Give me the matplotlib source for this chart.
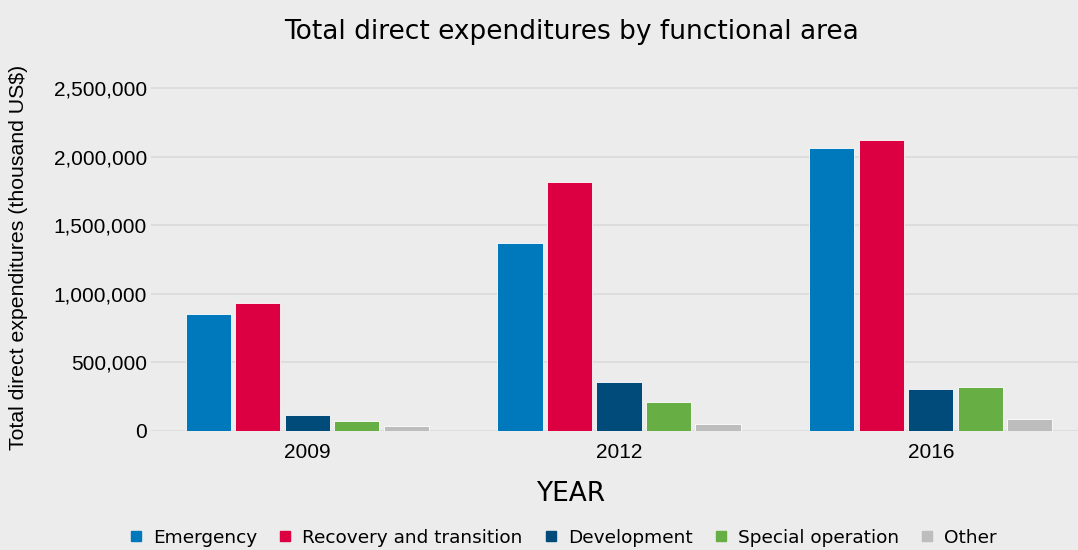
import numpy as np
import matplotlib.pyplot as plt
from matplotlib.ticker import FuncFormatter
from matplotlib.lines import Line2D

# Direct expenditures (thousand US$) by functional area
years = ['2009', '2012', '2016']
areas = ['Emergency', 'Recovery and transition', 'Development', 'Special operation', 'Other']
emergency = [853500, 1371000, 2062000]
recovery = [931500, 1811500, 2123000]
development = [116700, 355000, 304000]
special_operation = [70500, 211600, 318600]
other = [38900, 53500, 85300]

series = [emergency, recovery, development, special_operation, other]
colors = ['#0079bc', '#dc0042', '#004b7a', '#67ae45', '#bdbdbd']

bg = '#ececec'
fig = plt.figure(figsize=(10.78, 5.5), dpi=100, facecolor=bg)
ax = fig.add_axes([0.140, 0.2164, 0.868, 0.661], facecolor=bg)

x = np.arange(len(years))
step = 0.1588
width = 0.145
for i, (vals, c) in enumerate(zip(series, colors)):
    ax.bar(x + (i - 2) * step, vals, width=width, color=c,
           edgecolor='#ffffff', linewidth=0.6, zorder=3)

ax.set_ylim(0, 2650000)
ax.set_xlim(-0.502, 2.50)
ax.set_yticks(np.arange(0, 2500001, 500000))
ax.yaxis.set_major_formatter(FuncFormatter(lambda v, p: f'{int(v):,}'))
ax.set_xticks(x)
ax.set_xticklabels(years)
ax.grid(axis='y', color='#dcdcdc', linewidth=1.3, zorder=0)
ax.tick_params(axis='y', length=0, labelsize=15, pad=3)
ax.tick_params(axis='x', length=0, labelsize=15, pad=9)
for lab in ax.get_xticklabels() + ax.get_yticklabels():
    lab.set_family('Liberation Sans')
for s in ax.spines.values():
    s.set_visible(False)

ax.set_ylabel('Total direct expenditures (thousand US$)', family='Liberation Sans',
              fontsize=15.3)
ax.yaxis.set_label_coords(-0.131, 0.477)
ax.set_xlabel('YEAR', family='DejaVu Sans', fontsize=19)
ax.xaxis.set_label_coords((571 - 151.3) / 935.7, -0.137)
fig.suptitle('Total direct expenditures by functional area', family='DejaVu Sans',
             fontsize=19, x=0.530, y=0.965)

handles = [Line2D([], [], marker='s', linestyle='none', markersize=7.5,
                  markerfacecolor=c, markeredgecolor=c) for c in colors]
fig.legend(handles, areas, loc='center', bbox_to_anchor=(0.521, 0.022), ncol=5,
           frameon=False, handletextpad=0.42, columnspacing=1.02,
           handlelength=1.0, prop={'family': 'DejaVu Sans', 'size': 13.3})

fig.savefig('out.png', dpi=100, facecolor=bg)
